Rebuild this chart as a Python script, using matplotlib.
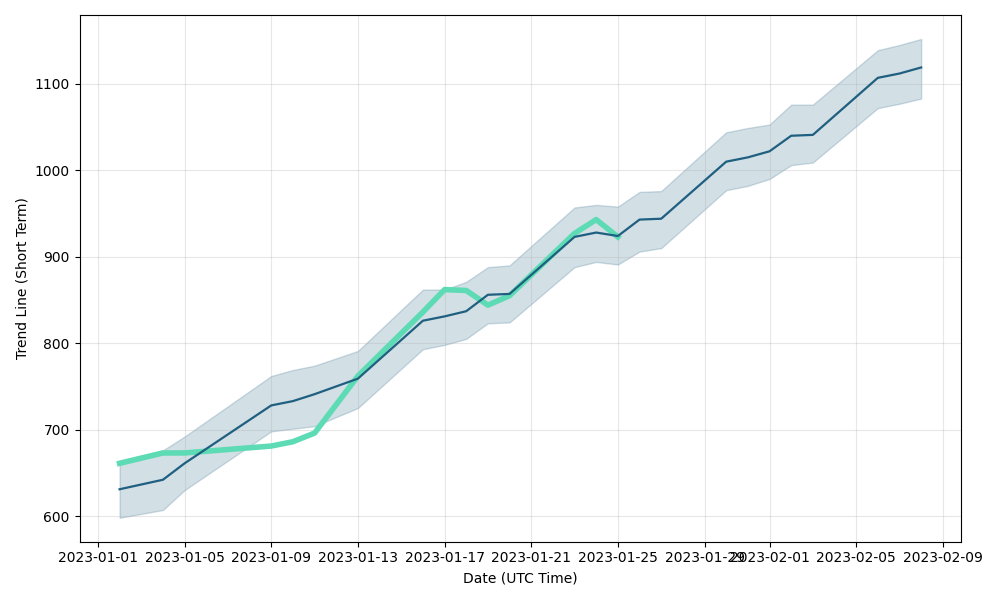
import matplotlib
matplotlib.use("Agg")
import matplotlib.pyplot as plt
import pandas as pd

# Tendance court terme (ligne sombre) et sa bande
dates = pd.to_datetime([
    "2023-01-02", "2023-01-04", "2023-01-05", "2023-01-09", "2023-01-10",
    "2023-01-11", "2023-01-13", "2023-01-16", "2023-01-17", "2023-01-18",
    "2023-01-19", "2023-01-20", "2023-01-23", "2023-01-24", "2023-01-25",
    "2023-01-26", "2023-01-27", "2023-01-30", "2023-01-31", "2023-02-01",
    "2023-02-02", "2023-02-03", "2023-02-06", "2023-02-07", "2023-02-08",
])
trend = [631, 642, 661, 728, 733, 741, 759, 826, 831, 837, 856, 857, 923, 928,
         924, 943, 944, 1010, 1015, 1022, 1040, 1041, 1107, 1112, 1119]
upper = [664, 676, 692, 762, 769, 774, 791, 862, 862, 871, 888, 890, 957, 960,
         958, 975, 976, 1044, 1049, 1053, 1076, 1076, 1139, 1145, 1152]
lower = [598, 607, 630, 698, 701, 704, 725, 793, 798, 805, 823, 824, 888, 894,
         891, 906, 910, 977, 982, 990, 1006, 1009, 1072, 1077, 1083]

# Série verte (valeurs observées jusqu'au 25 janvier)
dates_obs = dates[:15]
observed = [661, 673, 673, 681, 686, 696, 762, 836, 862, 861, 844, 855, 927, 943, 923]

fig, ax = plt.subplots(figsize=(10, 6), dpi=100)

ax.fill_between(dates, lower, upper, color="#1f5f80", alpha=0.2)
ax.plot(dates_obs, observed, color="#5ddbb5", linewidth=4)
ax.plot(dates, trend, color="#1f5f80", linewidth=1.6)

ax.set_xlabel("Date (UTC Time)")
ax.set_ylabel("Trend Line (Short Term)")
ax.grid(True, alpha=0.3)
fig.tight_layout()

fig.savefig("out.png", dpi=100)
